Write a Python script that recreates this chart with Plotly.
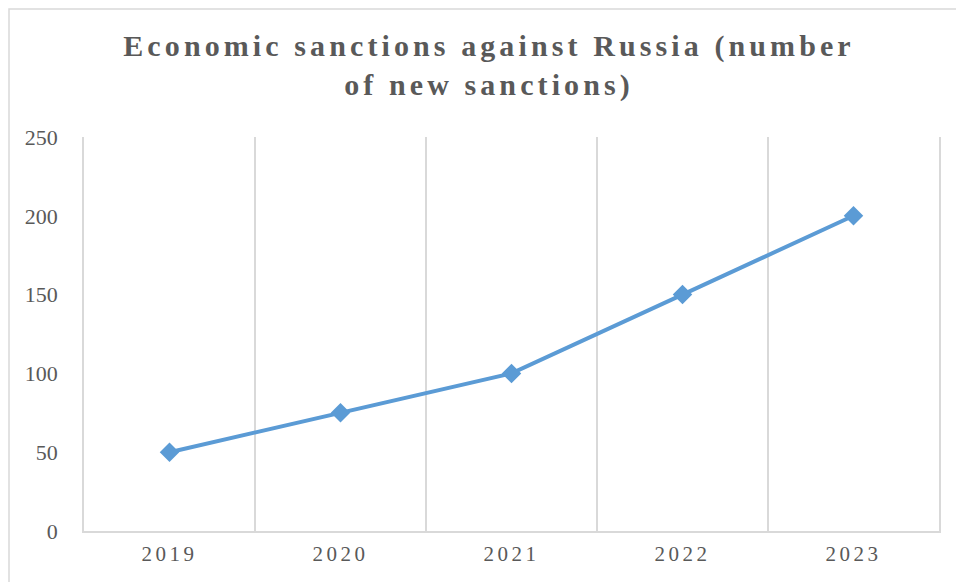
import plotly.graph_objects as go

years = ["2019", "2020", "2021", "2022", "2023"]
sanctions = [50, 75, 100, 150, 200]
y_ticks = [0, 50, 100, 150, 200, 250]

W, H = 956, 582
L, R, T, B = 84, 17, 137, 51
pw, ph = W - L - R, H - T - B

spaced = lambda s, px: f'<span style="letter-spacing:{px}px">{s}</span>'

fig = go.Figure()
fig.add_trace(go.Scatter(
    x=list(range(len(years))), y=sanctions, mode="lines+markers",
    line=dict(color="#5b9bd5", width=4),
    marker=dict(symbol="diamond", size=15, color="#5b9bd5"),
    showlegend=False, hovertext=years, hoverinfo="text+y",
))

grey = "#d9d9d9"
fig.update_layout(
    width=W, height=H,
    margin=dict(l=L, r=R, t=T, b=B, autoexpand=False),
    paper_bgcolor="white", plot_bgcolor="white",
    font=dict(family="Liberation Serif, Times New Roman, serif", color="#595959"),
    title=dict(
        text="<b>" + spaced("Economic sanctions against Russia (number", 4.1)
             + "<br>" + spaced("of new sanctions)", 4.1) + "</b>",
        x=489 / W, xanchor="center", xref="container",
        y=1 - 56 / H, yanchor="top", yref="container",
        font=dict(size=30, color="#595959", family="Liberation Serif, Times New Roman, serif"),
    ),
    xaxis=dict(
        range=[-0.5, 4.5], automargin=False,
        tickvals=list(range(len(years))), ticktext=[spaced(y, 3.5) for y in years],
        minor=dict(tickvals=[i - 0.5 for i in range(len(years) + 1)],
                   showgrid=True, gridcolor=grey, gridwidth=1.5, ticks=""),
        showgrid=False,
        showline=True, linecolor=grey, linewidth=1.5,
        ticks="", tickfont=dict(size=21, color="#595959"),
        ticklabelstandoff=3, zeroline=False,
    ),
    yaxis=dict(
        range=[0, 250], tickvals=y_ticks, showgrid=False, zeroline=False, automargin=False,
        showline=True, mirror=True, linecolor=grey, linewidth=1.5,
        ticks="", tickfont=dict(size=22, color="#595959"),
        ticklabelstandoff=20,
    ),
    shapes=[dict(
        type="rect", xref="paper", yref="paper",
        x0=(9 - L) / pw, x1=1 + (R + 20) / pw,
        y0=-(B + 20) / ph, y1=1 + (T - 9) / ph,
        line=dict(color=grey, width=1.5), fillcolor="rgba(0,0,0,0)", layer="below",
    )],
)

fig.write_html("out.html")
